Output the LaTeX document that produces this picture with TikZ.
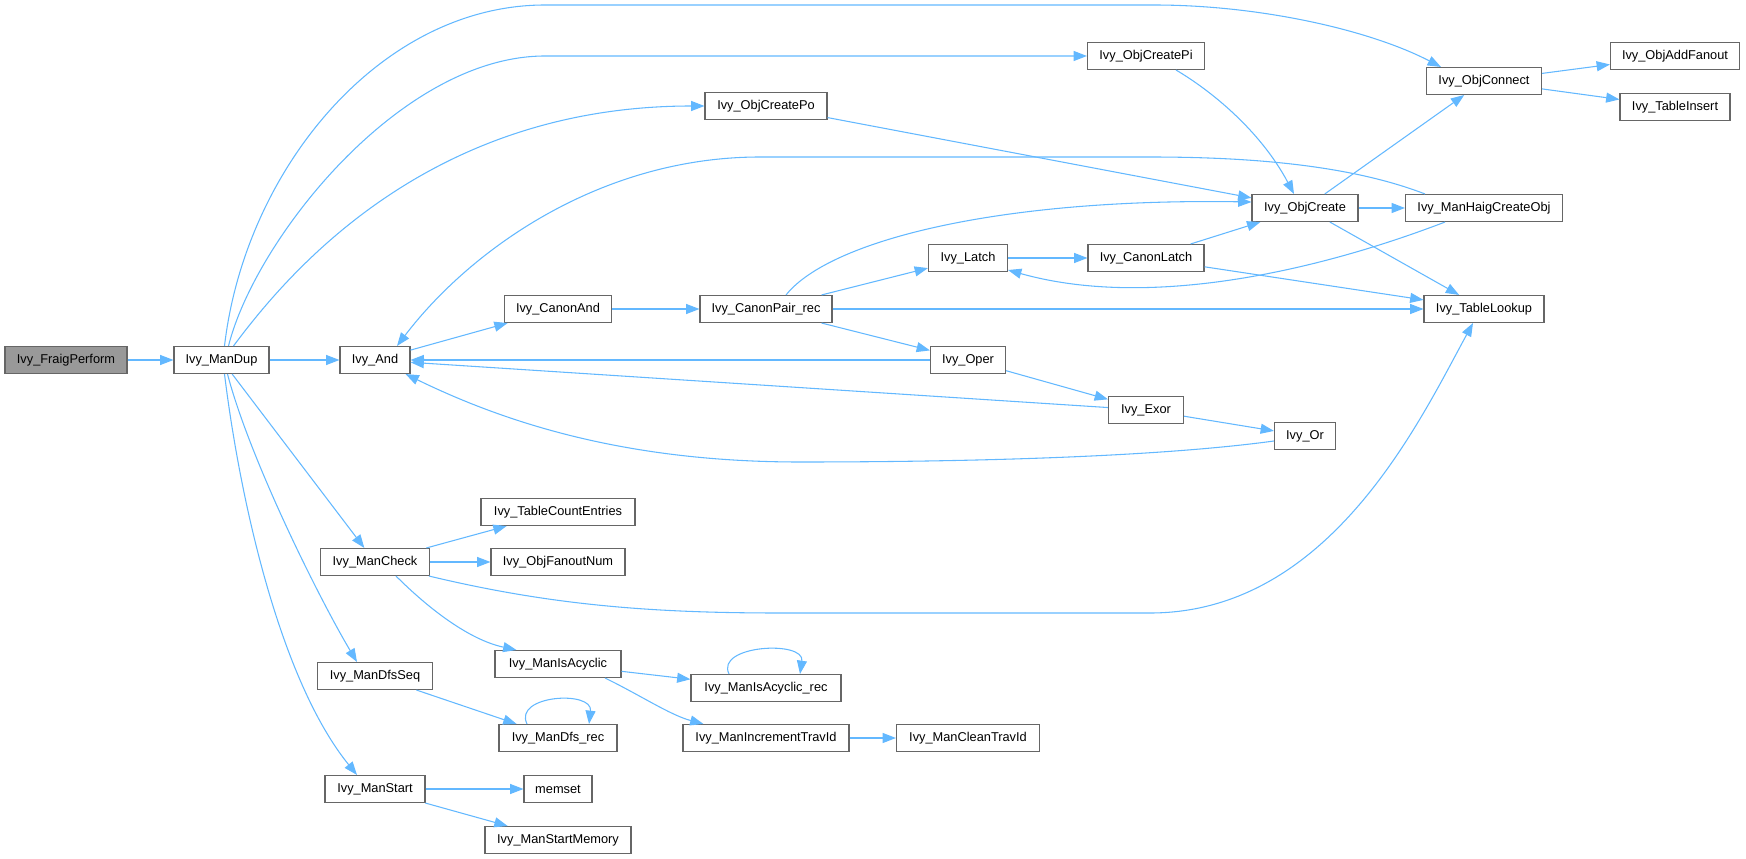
\documentclass[tikz,border=0pt]{standalone}
\usepackage{fontspec}
\setmainfont{Liberation Sans}
\usetikzlibrary{arrows.meta,calc}
\definecolor{edgecol}{HTML}{63B8FF}
\definecolor{boxborder}{HTML}{666666}
\definecolor{rootfill}{HTML}{999999}
\tikzset{
  box/.style={draw=boxborder, fill=white, line width=0.8pt, rectangle,
    minimum height=20.25pt, inner sep=0pt,
    font=\fontsize{9.6}{11}\selectfont},
  w/.style={minimum width=#1*0.75pt},
  edge/.style={draw=edgecol, line width=0.8pt,
    -{Triangle[length=10pt,width=7.5pt]}},
}
\begin{document}
\begin{tikzpicture}[x=0.75pt,y=-0.75pt]
\useasboundingbox (0,0) rectangle (1746,859);
% nodes
\node[box,w=122,fill=rootfill] (fraig) at (66,360) {Ivy\_FraigPerform};
\node[box,w=95] (mandup) at (221.5,360) {Ivy\_ManDup};
\node[box,w=70] (and) at (375,360) {Ivy\_And};
\node[box,w=107] (canonand) at (558,309) {Ivy\_CanonAnd};
\node[box,w=132] (canonpair) at (766,309) {Ivy\_CanonPair\_rec};
\node[box,w=79] (latch) at (968,258) {Ivy\_Latch};
\node[box,w=116] (canonlatch) at (1146,258) {Ivy\_CanonLatch};
\node[box,w=75] (oper) at (968,360) {Ivy\_Oper};
\node[box,w=75] (exor) at (1146,410) {Ivy\_Exor};
\node[box,w=61] (or) at (1305,436) {Ivy\_Or};
\node[box,w=117] (objcreatepi) at (1146,56) {Ivy\_ObjCreatePi};
\node[box,w=122] (objcreatepo) at (766,106) {Ivy\_ObjCreatePo};
\node[box,w=115] (objconnect) at (1484,81) {Ivy\_ObjConnect};
\node[box,w=129] (objaddfanout) at (1675,56) {Ivy\_ObjAddFanout};
\node[box,w=110] (tableinsert) at (1675,107) {Ivy\_TableInsert};
\node[box,w=106] (objcreate) at (1305,208) {Ivy\_ObjCreate};
\node[box,w=157] (manhaig) at (1484,208) {Ivy\_ManHaigCreateObj};
\node[box,w=120] (tablelookup) at (1484,309) {Ivy\_TableLookup};
\node[box,w=154] (tablecount) at (558,512) {Ivy\_TableCountEntries};
\node[box,w=109] (mancheck) at (375,562) {Ivy\_ManCheck};
\node[box,w=134] (objfanoutnum) at (558,562) {Ivy\_ObjFanoutNum};
\node[box,w=126] (manisacyclic) at (558,664) {Ivy\_ManIsAcyclic};
\node[box,w=150] (isacyclicrec) at (766,688) {Ivy\_ManIsAcyclic\_rec};
\node[box,w=115] (mandfsseq) at (375,676) {Ivy\_ManDfsSeq};
\node[box,w=118] (mandfsrec) at (558,738) {Ivy\_ManDfs\_rec};
\node[box,w=166] (incrtravid) at (766,738) {Ivy\_ManIncrementTravId};
\node[box,w=143] (cleantravid) at (968,738) {Ivy\_ManCleanTravId};
\node[box,w=100] (manstart) at (375,789) {Ivy\_ManStart};
\node[box,w=68] (memset) at (558,789) {memset};
\node[box,w=146] (startmemory) at (558,840) {Ivy\_ManStartMemory};
% straight edges
\draw[edge] (fraig) -- (mandup);
\draw[edge] (mandup) -- (and);
\draw[edge] (mandup) -- (mancheck);
\draw[edge] (and) -- (canonand);
\draw[edge] (canonand) -- (canonpair);
\draw[edge] (canonpair) -- (latch);
\draw[edge] (canonpair) -- (oper);
\draw[edge] (canonpair) -- (tablelookup);
\draw[edge] (latch) -- (canonlatch);
\draw[edge] (canonlatch) -- (objcreate);
\draw[edge] (canonlatch) -- (tablelookup);
\draw[edge] (objcreate) -- (objconnect);
\draw[edge] (objcreate) -- (manhaig);
\draw[edge] (objcreate) -- (tablelookup);
\draw[edge] (objcreatepo) -- (objcreate);
\draw[edge] (objconnect) -- (objaddfanout);
\draw[edge] (objconnect) -- (tableinsert);
\draw[edge] (oper) -- (and);
\draw[edge] (exor) -- (and);
\draw[edge] (oper) -- (exor);
\draw[edge] (exor) -- (or);
\draw[edge] (mancheck) -- (tablecount);
\draw[edge] (mancheck) -- (objfanoutnum);
\draw[edge] (manisacyclic) -- (isacyclicrec);
\draw[edge] (incrtravid) -- (cleantravid);
\draw[edge] (mandfsseq) -- (mandfsrec);
\draw[edge] (manstart) -- (memset);
\draw[edge] (manstart) -- (startmemory);
% curved edges
\draw[edge] ($(mandup.north)+(3,0)$) .. controls (245,170) and (380,5) .. (545,5) -- (1154,5) .. controls (1260,5) and (1370,30) .. ($(objconnect.north west)+(15,0)$);
\draw[edge] ($(mandup.north)+(7,0)$) .. controls (255,240) and (400,56) .. (545,56) -- (objcreatepi.west);
\draw[edge] ($(mandup.north)+(12,0)$) .. controls (290,270) and (430,106) .. (objcreatepo.west);
\draw[edge] ($(mandup.south)+(6,0)$) .. controls (250,460) and (320,600) .. ($(mandfsseq.north)+(-18,0)$);
\draw[edge] ($(mandup.south)+(3,0)$) .. controls (240,500) and (280,680) .. ($(manstart.north)+(-18,0)$);
\draw[edge] ($(canonpair.north)+(20,0)$) .. controls (830,240) and (1000,198) .. ($(objcreate.west)+(0,-6)$);
\draw[edge] ($(manhaig.north west)+(20,0)$) .. controls (1350,165) and (1250,157) .. (1150,157) -- (760,157) .. controls (600,157) and (470,250) .. ($(and.north)+(22,0)$);
\draw[edge] ($(manhaig.south)+(-39,0)$) .. controls (1320,270) and (1150,310) .. ($(latch.east)+(0,12)$);
\draw[edge] ($(or.west)+(0,5)$) .. controls (1150,458) and (950,462) .. (800,462) .. controls (620,462) and (500,420) .. ($(and.south east)+(-5,0)$);
\draw[edge] ($(objcreatepi.south)+(30,0)$) .. controls (1210,90) and (1260,130) .. ($(objcreate.north)+(-11,0)$);
\draw[edge] ($(mancheck.south east)+(-1,0)$) .. controls (550,605) and (650,613) .. (780,613) -- (1150,613) .. controls (1330,613) and (1420,420) .. ($(tablelookup.south)+(-11,0)$);
\draw[edge] ($(mancheck.south)+(21,0)$) .. controls (430,610) and (470,640) .. ($(manisacyclic.north west)+(22,0)$);
\draw[edge] ($(manisacyclic.south)+(47,0)$) .. controls (640,695) and (670,715) .. ($(incrtravid.north west)+(21,0)$);
% self loops
\draw[edge] ($(isacyclicrec.north)+(-37,0)$) .. controls (715,645) and (805,640) .. ($(isacyclicrec.north)+(34,0)$);
\draw[edge] ($(mandfsrec.north)+(-31,0)$) .. controls (513,695) and (593,690) .. ($(mandfsrec.north)+(31,0)$);
\end{tikzpicture}
\end{document}
